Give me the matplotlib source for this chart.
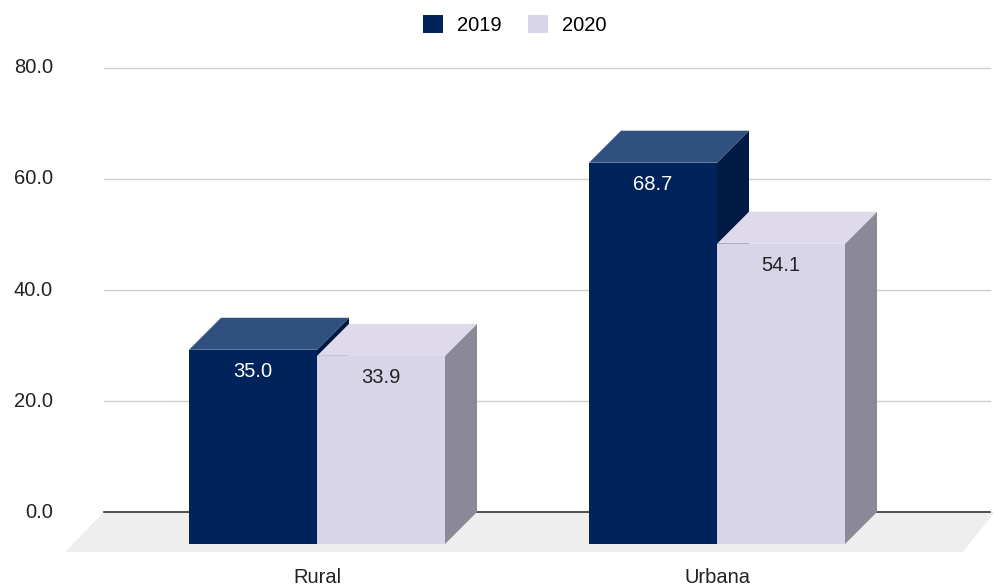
import numpy as np
import matplotlib.pyplot as plt
from matplotlib.patches import Polygon, Patch

plt.rcParams['font.family'] = ['Liberation Sans', 'DejaVu Sans']

categories = ["Rural", "Urbana"]
years = ["2019", "2020"]
values_2019 = [35.0, 68.7]
values_2020 = [33.9, 54.1]
yticks = [0, 20, 40, 60, 80]

# face colours per series: front, top, side
faces = {
    "2019": ("#00235c", "#30507f", "#001a44"),
    "2020": ("#d9d5e9", "#dedaec", "#8b8997"),
}
label_colors = {"2019": "white", "2020": "#222222"}

bar_w = 0.32          # width of one bar in category units
dx, dy = 0.08, 5.77   # depth offset of the bars (x units, value units)
fdx, fdy = 0.10, 7.2  # depth of the floor
fs = 14.5

fig = plt.figure(figsize=(9.94, 5.87), dpi=100)
ax = fig.add_axes([0, 0, 1, 1])
ax.set_xlim(-0.7925, 1.6925)
ax.set_ylim(-13.51, 92.25)
ax.axis("off")

x = np.arange(len(categories))
wall_l, wall_r = -0.5325, 1.6825

# floor
floor = Polygon([(wall_l - fdx + 0.002, -fdy), (wall_r - fdx + 0.032, -fdy),
                 (wall_r + 0.012, 0), (wall_l, 0)],
                closed=True, fc="#eeeeee", ec="none", zorder=1)
ax.add_patch(floor)

# gridlines on the back wall
for t in yticks:
    ax.plot([wall_l, wall_r], [t, t], color="#333333" if t == 0 else "#cccccc",
            lw=1.2 if t == 0 else 1.0, zorder=2)
    ax.text(-0.66, t, f"{t:.1f}", ha="right", va="center", fontsize=fs,
            color="#222222")


def bar3d(x0, v, year):
    front, top, side = faces[year]
    x1 = x0 + bar_w
    # side face
    ax.add_patch(Polygon([(x1, -dy), (x1 + dx, 0), (x1 + dx, v), (x1, v - dy)],
                         closed=True, fc=side, ec="none", zorder=3))
    # top face
    ax.add_patch(Polygon([(x0, v - dy), (x1, v - dy), (x1 + dx, v), (x0 + dx, v)],
                         closed=True, fc=top, ec="none", zorder=3))
    # front face
    ax.add_patch(Polygon([(x0, -dy), (x1, -dy), (x1, v - dy), (x0, v - dy)],
                         closed=True, fc=front, ec="none", zorder=3))
    ax.text(x0 + bar_w / 2, v - dy - 3.9, f"{v:.1f}", ha="center", va="center",
            fontsize=fs, color=label_colors[year], zorder=4)


for i in range(len(categories)):
    bar3d(x[i] - bar_w, values_2019[i], "2019")
    bar3d(x[i], values_2020[i], "2020")
    ax.text(x[i], -11.8, categories[i], ha="center", va="center",
            fontsize=fs, color="#222222")

handles = [Patch(fc=faces[y][0], ec="none", label=y) for y in years]
fig.legend(handles=handles, loc="center", bbox_to_anchor=(0.518, 0.958),
           ncol=2, frameon=False, fontsize=fs, handlelength=1.0,
           handleheight=1.0, handletextpad=0.7, columnspacing=1.3)

fig.savefig("out.png", dpi=100)
